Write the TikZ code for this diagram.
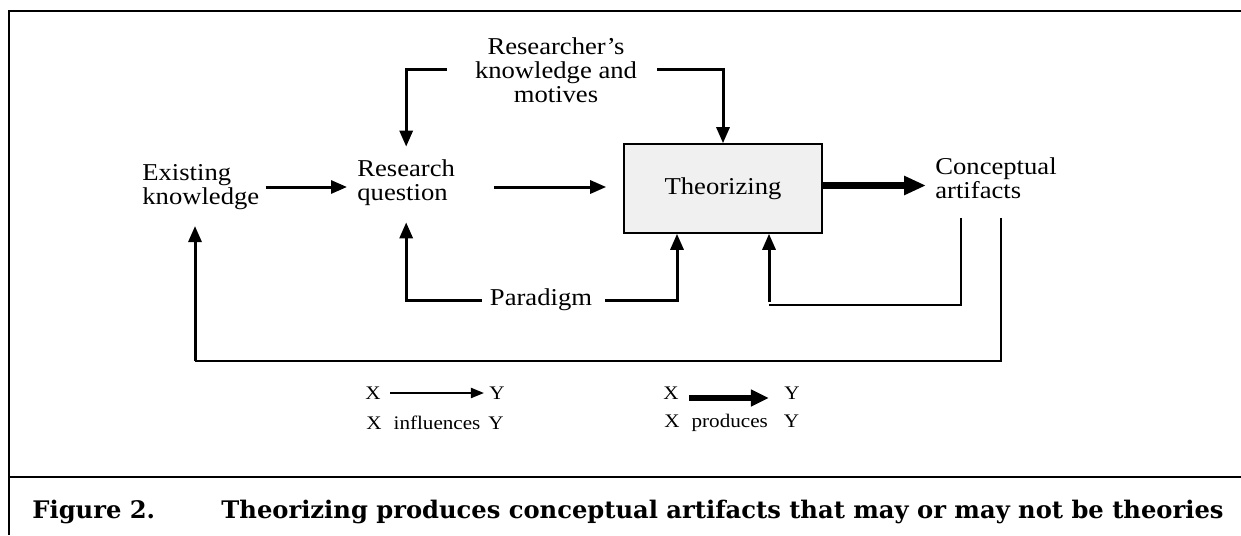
\documentclass[tikz,border=0pt]{standalone}
\usepackage{fontspec}
\setmainfont{Liberation Serif}[FakeStretch=1.1]
\newfontfamily\capfont{DejaVu Serif}
\usetikzlibrary{arrows.meta,positioning,calc}

\begin{document}
\begin{tikzpicture}[
  x=0.5pt, y=-0.5pt,
  term/.style={align=left, inner sep=1pt, font=\fontsize{12.1}{12}\selectfont},
  process/.style={draw, line width=0.8pt, fill=black!6, minimum width=99pt,
    minimum height=44.5pt, inner sep=0pt, font=\fontsize{12.1}{12}\selectfont},
  key/.style={inner sep=1pt, font=\fontsize{9.6}{10}\selectfont},
  caption/.style={inner sep=0pt, font=\capfont\bfseries\fontsize{12.1}{13}\selectfont},
  frame/.style={line width=1.3pt},
  arrow/.style={-{Triangle[length=8pt,width=6.5pt]}, line width=1.5pt},
  produce/.style={-{Triangle[length=11pt,width=9pt]}, line width=3.5pt},
  loop/.style={line width=0.8pt},
  keyarrow/.style={-{Triangle[length=6.5pt,width=5pt]}, line width=1pt},
  keyproduce/.style={-{Triangle[length=9pt,width=8pt]}, line width=3pt}
]
\useasboundingbox (0,0) rectangle (1241,535);
% frame and caption rule
\draw[frame] (1241,11) -- (9,11) -- (9,535);
\draw[frame] (9,477) -- (1241,477);

\node[term, anchor=west] (existing) at (140,187) {Existing\\knowledge};
\node[term, anchor=west] (question) at (355,183) {Research\\question};
\node[term, align=center] (motives) at (556,70) {Researcher's\\knowledge and\\motives};
\node[process] (theorizing) at (723,188.5) {Theorizing};
\node[term, anchor=west] (artifacts) at (933,178) {Conceptual\\artifacts};
\node[term] (paradigm) at (541,300) {Paradigm};
\coordinate (innerfoot) at (769,305);
\coordinate (outerfoot) at (195,361);

\draw[arrow, shorten <=2pt, shorten >=4pt] (existing.east) -- (existing.east -| question.west);
\draw[arrow, shorten <=18.5pt, shorten >=8.5pt] ([yshift=-2pt]question.east)
  -- ([yshift=-2pt]question.east -| theorizing.west);
\draw[produce, shorten >=3.5pt] ([yshift=1.5pt]theorizing.east)
  -- ([yshift=1.5pt]theorizing.east -| artifacts.west);
\draw[arrow, shorten <=13pt, shorten >=5.5pt] (motives.west) -| (question.north);
\draw[arrow, shorten <=9pt] (motives.east) -| (theorizing.north);
\draw[arrow, shorten <=3pt, shorten >=7pt] (paradigm.west) -| (question.south);
\draw[arrow, shorten <=5.5pt] (paradigm.east) -| ([xshift=-23pt]theorizing.south);
% feedback from the artifacts
\draw[loop] ([xshift=14pt,yshift=-8.5pt]artifacts.south west) |- (innerfoot);
\draw[arrow] ([yshift=1.5pt]innerfoot) -- (innerfoot |- theorizing.south);
\draw[loop] ([xshift=34pt,yshift=-8.5pt]artifacts.south west) |- (outerfoot);
\draw[arrow, shorten >=7pt] (outerfoot) -- (outerfoot |- existing.south);

% legend
\node[key] (x1) at (373,393) {X};
\node[key] (y1) at (497,393) {Y};
\draw[keyarrow, shorten <=3.5pt, shorten >=1.5pt] (x1) -- (y1);
\node[key, anchor=west] (influences) at (364,423) {X\hspace{6pt}influences\hspace{4pt}Y};
\node[key] (x2) at (671,393) {X};
\node[key] (y2) at (792,393) {Y};
\draw[keyproduce, shorten <=4pt, shorten >=6.5pt] ([yshift=-2.5pt]x2.east)
  -- ([yshift=-2.5pt]y2.west);
\node[key, anchor=west] (produces) at (662,423) {X\hspace{6pt}produces\hspace{8pt}Y};

\node[caption, anchor=base west] (fignum) at (32,518) {Figure 2.};
\node[caption, anchor=base west] (figtitle) at (221,518)
  {Theorizing produces conceptual artifacts that may or may not be theories};
\end{tikzpicture}
\end{document}
